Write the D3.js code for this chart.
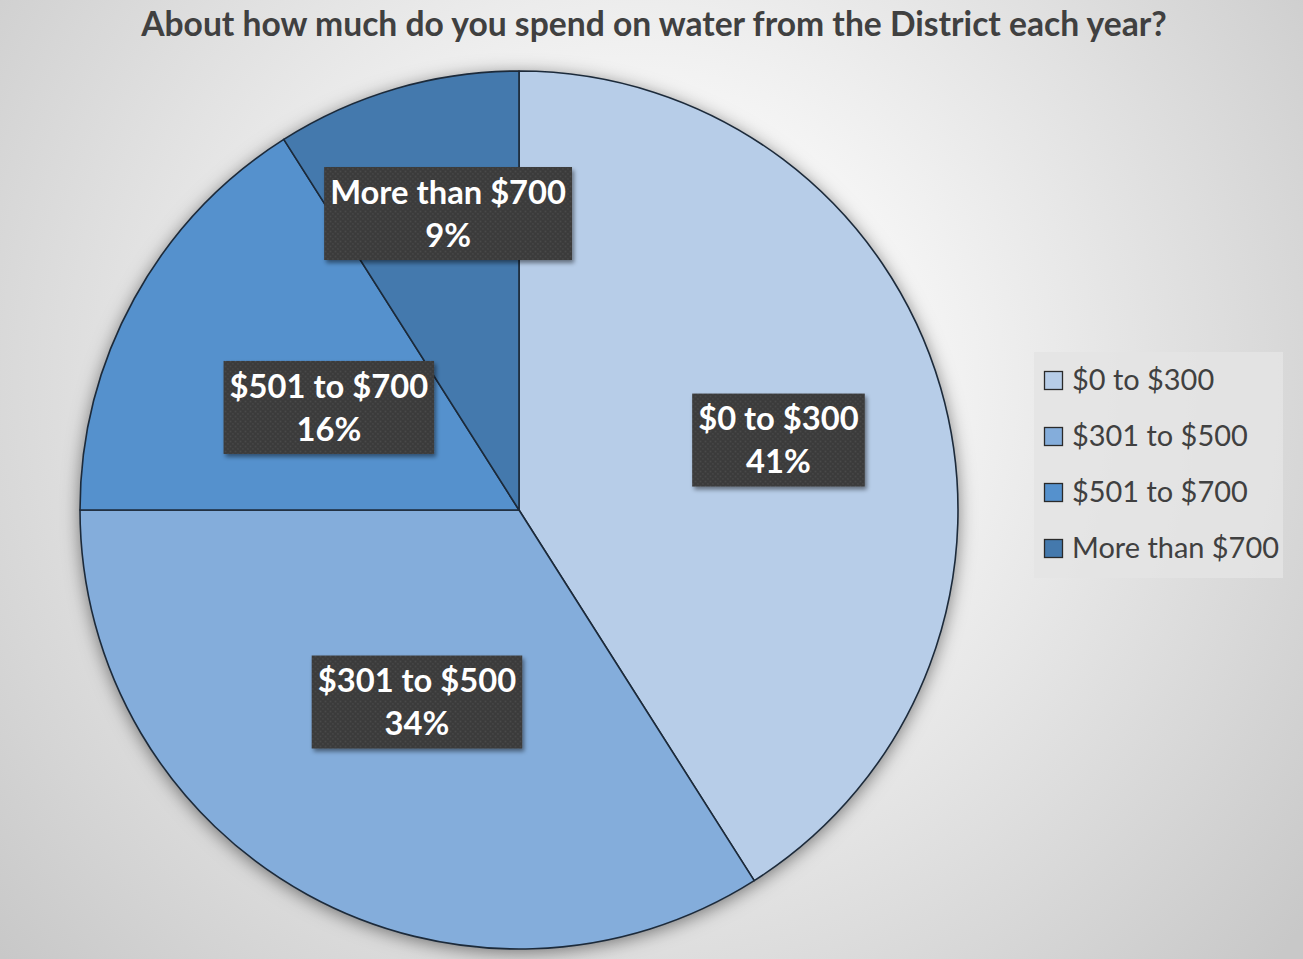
<!DOCTYPE html>
<html>
<head>
<meta charset="utf-8">
<script src="https://cdn.jsdelivr.net/npm/d3@7"></script>
<style>
  html, body { margin: 0; padding: 0; background: #ffffff; }
  svg { display: block; }
</style>
</head>
<body>
<script>
// Survey answers: annual spend on District water
const categories = ["$0 to $300", "$301 to $500", "$501 to $700", "More than $700"];
const shares = [41, 34, 16, 9];
const sliceColors = ["#b7cde8", "#84addb", "#5591cd", "#4479ad"];
const titleText = "About how much do you spend on water from the District each year?";

const W = 1303, H = 959;
const cx = 519, cy = 510, R = 439;
const font = "Lato, 'Open Sans', 'Noto Sans', sans-serif";

// Where each data label box sits: radius along the slice's mid angle, plus a nudge
const labelPlacement = [
  { r: 265, dx: 5, dy: 4 },
  { r: 218, dx: 3, dy: 1 },
  { r: 217, dx: 0, dy: 2 },
  { r: 290, dx: 10, dy: -18 }
];

const svg = d3.select("body").append("svg")
  .attr("width", W).attr("height", H);

const defs = svg.append("defs");

// Page background: soft radial fade from white to grey
const bg = defs.append("radialGradient").attr("id", "bgGrad")
  .attr("gradientUnits", "userSpaceOnUse")
  .attr("cx", 640).attr("cy", 380).attr("r", 860);
bg.append("stop").attr("offset", "0").attr("stop-color", "#ffffff");
bg.append("stop").attr("offset", "0.3").attr("stop-color", "#f6f6f6");
bg.append("stop").attr("offset", "1").attr("stop-color", "#c8c8c8");

// Shadow under the pie
const pieShadow = defs.append("filter").attr("id", "pieShadow")
  .attr("x", "-10%").attr("y", "-10%").attr("width", "120%").attr("height", "120%");
pieShadow.append("feDropShadow")
  .attr("dx", 0).attr("dy", 3).attr("stdDeviation", 9)
  .attr("flood-color", "#000").attr("flood-opacity", 0.5);

// Shadow under label boxes
const boxShadow = defs.append("filter").attr("id", "boxShadow")
  .attr("x", "-10%").attr("y", "-10%").attr("width", "125%").attr("height", "130%");
boxShadow.append("feDropShadow")
  .attr("dx", 2).attr("dy", 3).attr("stdDeviation", 2)
  .attr("flood-color", "#000").attr("flood-opacity", 0.45);

// Fine dotted texture for the label boxes
const pat = defs.append("pattern").attr("id", "dots")
  .attr("patternUnits", "userSpaceOnUse").attr("width", 5).attr("height", 5);
pat.append("rect").attr("width", 5).attr("height", 5).attr("fill", "#3b3b3b");
pat.append("circle").attr("cx", 1.5).attr("cy", 1.5).attr("r", 0.9).attr("fill", "#4a4a4a");
pat.append("circle").attr("cx", 4).attr("cy", 4).attr("r", 0.9).attr("fill", "#474747");

svg.append("rect").attr("width", W).attr("height", H).attr("fill", "url(#bgGrad)");

// Helper: choose a font size so a string fills a given width
function fitSize(text, weight, targetWidth) {
  const probe = svg.append("text")
    .attr("font-family", font).attr("font-weight", weight)
    .attr("font-size", 40).text(text);
  const w = probe.node().getComputedTextLength();
  probe.remove();
  return 40 * targetWidth / w;
}

// Title
svg.append("text")
  .attr("x", 654).attr("y", 36)
  .attr("text-anchor", "middle")
  .attr("font-family", font).attr("font-weight", 700)
  .attr("font-size", fitSize(titleText, 700, 1026))
  .attr("fill", "#404040")
  .text(titleText);

// Pie
const color = d3.scaleOrdinal().domain(categories).range(sliceColors);
const pie = d3.pie().sort(null).value(d => d.value);
const data = categories.map((c, i) => ({ name: c, value: shares[i] }));
const arcs = pie(data);
const arc = d3.arc().innerRadius(0).outerRadius(R);

const g = svg.append("g").attr("transform", `translate(${cx},${cy})`);

g.append("circle").attr("r", R).attr("fill", "#9fb9d8").attr("filter", "url(#pieShadow)");

g.selectAll("path.slice").data(arcs).join("path")
  .attr("class", "slice")
  .attr("d", arc)
  .attr("fill", d => color(d.data.name))
  .attr("stroke", "#1c2a3a")
  .attr("stroke-width", 1.6)
  .attr("stroke-linejoin", "round");

// Data labels
const labelSize = fitSize("More than $700", 700, 236);
const lineGap = 43;
const boxH = 93;

const labels = g.selectAll("g.lbl").data(arcs).join("g").attr("class", "lbl");
labels.each(function(d, i) {
  const sel = d3.select(this);
  const mid = (d.startAngle + d.endAngle) / 2;
  const p = labelPlacement[i];
  const x = Math.sin(mid) * p.r + p.dx;
  const y = -Math.cos(mid) * p.r + p.dy;
  const lines = [d.data.name, d.data.value + "%"];

  const tg = sel.append("g");
  const texts = lines.map((t, k) => tg.append("text")
    .attr("x", x)
    .attr("y", y - lineGap / 2 + k * lineGap)
    .attr("dy", "0.36em")
    .attr("text-anchor", "middle")
    .attr("font-family", font).attr("font-weight", 700)
    .attr("font-size", labelSize)
    .attr("fill", "#ffffff")
    .text(t));
  const tw = d3.max(texts, t => t.node().getComputedTextLength());
  const bw = tw + 12;
  sel.insert("rect", "g")
    .attr("x", x - bw / 2).attr("y", y - boxH / 2)
    .attr("width", bw).attr("height", boxH)
    .attr("fill", "url(#dots)")
    .attr("filter", "url(#boxShadow)");
});

// Legend
const legend = svg.append("g").attr("transform", "translate(1034,352)");
legend.append("rect").attr("width", 249).attr("height", 226)
  .attr("fill", "#e4e4e4").attr("fill-opacity", 0.85);
const legendSize = fitSize("More than $700", 400, 207);
const items = legend.selectAll("g.item").data(categories).join("g")
  .attr("class", "item")
  .attr("transform", (d, i) => `translate(0,${28 + i * 56})`);
items.append("rect")
  .attr("x", 10.5).attr("y", -8.5).attr("width", 18).attr("height", 18)
  .attr("fill", d => color(d))
  .attr("stroke", "#2a2a2a").attr("stroke-width", 1.3);
items.append("text")
  .attr("x", 38).attr("y", 0).attr("dy", "0.36em")
  .attr("font-family", font).attr("font-size", legendSize)
  .attr("fill", "#404040")
  .text(d => d);
</script>
</body>
</html>
